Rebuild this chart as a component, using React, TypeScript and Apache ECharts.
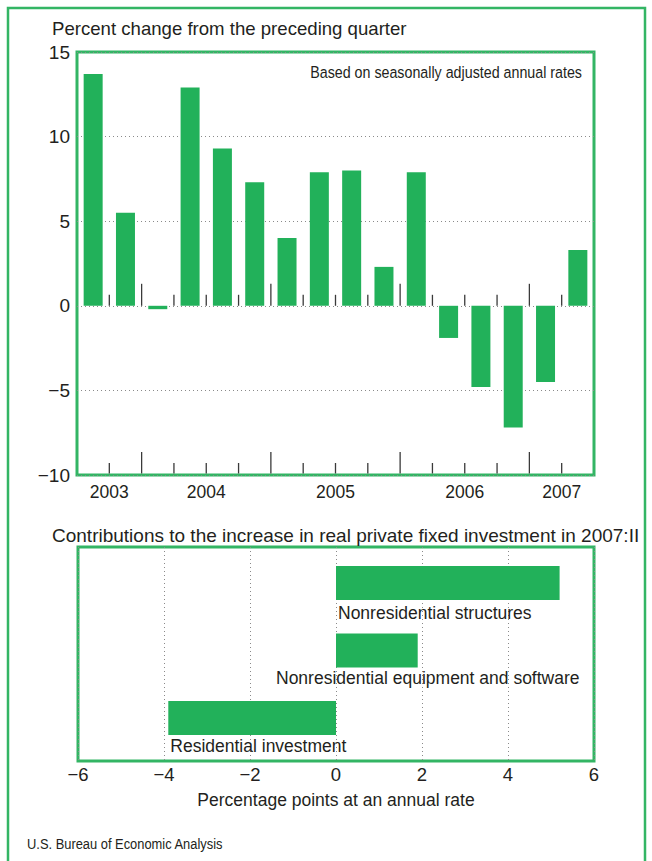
import React, { useEffect, useRef } from 'react';
import * as echarts from 'echarts';

// Top panel: percent change from the preceding quarter (SAAR)
const quarters = [
  '2003 Q3', '2003 Q4',
  '2004 Q1', '2004 Q2', '2004 Q3', '2004 Q4',
  '2005 Q1', '2005 Q2', '2005 Q3', '2005 Q4',
  '2006 Q1', '2006 Q2', '2006 Q3', '2006 Q4',
  '2007 Q1', '2007 Q2',
];
const changes = [13.7, 5.5, -0.2, 12.9, 9.3, 7.3, 4.0, 7.9, 8.0, 2.3, 7.9, -1.9, -4.8, -7.2, -4.5, 3.3];
const yearLabels = ['2003', '2004', '2005', '2006', '2007'];
const yTicks = [-10, -5, 0, 5, 10, 15];

// Bottom panel: contributions to the increase in 2007:II
const components = ['Nonresidential structures', 'Nonresidential equipment and software', 'Residential investment'];
const contributions = [5.2, 1.9, -3.9];
const xTicks = [-6, -4, -2, 0, 2, 4, 6];

const FONT = '"Liberation Sans", Arial, Helvetica, sans-serif';
const TEXT = '#231f20';
const GREEN = '#22b15a';
const BORDER = '#33b564';
const GRIDLINE = '#8a8a8a';
const TICK = '#3a3a3a';

const minus = (v: number) => (v < 0 ? '\u2212' + Math.abs(v) : String(v));

// year label sits at the centre of each year's span of quarters (a boundary value)
const yearLabelAt: Record<number, string> = {};
yearLabels.forEach((y) => {
  const idx = quarters.map((q, i) => (q.startsWith(y) ? i : -1)).filter((i) => i >= 0);
  yearLabelAt[(idx[0] + idx[idx.length - 1] + 1) / 2] = y;
});

// boundaries between consecutive quarters; year boundaries get tall ticks
const boundaries = quarters.slice(1).map((q, i) => [i + 1, q.endsWith('Q1') ? 1 : 0]);

const labelPos: [number, number][] = [[2, 38], [-60, 35], [2, 36]];

export default function App() {
  const ref = useRef<HTMLDivElement>(null);

  useEffect(() => {
    if (!ref.current) return;
    const chart = echarts.init(ref.current, undefined, { renderer: 'svg' });
    const dotted = { color: GRIDLINE, type: [1, 3] as any, width: 1 };
    const option: any = {
      animation: false,
      backgroundColor: '#ffffff',
      textStyle: { fontFamily: FONT, color: TEXT },
      grid: [
        { left: 77, top: 52, width: 517, height: 423, show: true, borderColor: BORDER, borderWidth: 3, backgroundColor: 'transparent' },
        { left: 78, top: 549.25, width: 516, height: 202.5, show: false },
        { left: 78, top: 547, width: 516, height: 214, show: true, borderColor: BORDER, borderWidth: 3, backgroundColor: 'transparent' },
      ],
      xAxis: [
        {
          gridIndex: 0, type: 'value', min: 0, max: quarters.length, interval: 1,
          axisLine: { show: false }, axisTick: { show: false }, splitLine: { show: false },
          axisLabel: {
            formatter: (v: number) => yearLabelAt[v] ?? '',
            fontSize: 17.5, color: TEXT, fontFamily: FONT, margin: 8, hideOverlap: false,
          },
        },
        { gridIndex: 1, type: 'value', min: xTicks[0], max: xTicks[xTicks.length - 1], show: false },
        {
          gridIndex: 2, type: 'value', min: xTicks[0], max: xTicks[xTicks.length - 1], interval: 2,
          axisLine: { show: false }, axisTick: { show: false },
          splitLine: { show: true, lineStyle: dotted },
          axisLabel: { formatter: minus, fontSize: 18.5, color: TEXT, fontFamily: FONT, margin: 4 },
          name: 'Percentage points at an annual rate', nameLocation: 'middle', nameGap: 30,
          nameTextStyle: { fontSize: 17.5, color: TEXT, fontFamily: FONT },
        },
      ],
      yAxis: [
        {
          gridIndex: 0, type: 'value', min: yTicks[0], max: yTicks[yTicks.length - 1], interval: 5,
          axisLine: { show: false }, axisTick: { show: false },
          splitLine: { show: true, lineStyle: dotted },
          axisLabel: { formatter: minus, fontSize: 19, color: TEXT, fontFamily: FONT, margin: 7 },
        },
        { gridIndex: 1, type: 'category', data: components, inverse: true, show: false },
        { gridIndex: 2, type: 'value', min: 0, max: 1, show: false },
      ],
      series: [
        {
          type: 'bar', xAxisIndex: 0, yAxisIndex: 0,
          data: changes.map((v, i) => [i + 0.5, v]),
          barWidth: 19, itemStyle: { color: GREEN }, z: 3,
        },
        {
          type: 'custom', xAxisIndex: 0, yAxisIndex: 0, z: 4,
          data: boundaries,
          renderItem: (_p: any, api: any) => {
            const k = api.value(0);
            const tall = api.value(1) === 1;
            const zp = api.coord([k, 0]);
            const bp = api.coord([k, yTicks[0]]);
            const lz = tall ? 22 : 11;
            const lb = tall ? 23 : 12;
            const st = { stroke: TICK, lineWidth: 1.3 };
            return {
              type: 'group',
              children: [
                { type: 'line', shape: { x1: zp[0], y1: zp[1], x2: zp[0], y2: zp[1] - lz }, style: st },
                { type: 'line', shape: { x1: bp[0], y1: bp[1] - 1.5, x2: bp[0], y2: bp[1] - lb }, style: st },
              ],
            };
          },
        },
        {
          type: 'bar', xAxisIndex: 1, yAxisIndex: 1,
          barWidth: 34, itemStyle: { color: GREEN },
          data: contributions.map((v, i) => ({
            value: v,
            label: {
              show: true, formatter: '{b}', position: labelPos[i],
              fontSize: 17.5, color: TEXT, fontFamily: FONT,
            },
          })),
        },
      ],
      graphic: [
        { type: 'rect', shape: { x: 8, y: 8, width: 637, height: 880 }, style: { fill: 'none', stroke: BORDER, lineWidth: 2.5 }, z: 10 },
        { type: 'text', x: 52, y: 28, style: { text: 'Percent change from the preceding quarter', fontSize: 18.6, fontFamily: FONT, fill: TEXT, verticalAlign: 'middle' } },
        { type: 'text', x: 582, y: 72, scaleX: 0.865, style: { text: 'Based on seasonally adjusted annual rates', fontSize: 16.5, fontFamily: FONT, fill: TEXT, align: 'right', verticalAlign: 'middle' } },
        { type: 'text', x: 52, y: 535, style: { text: 'Contributions to the increase in real private fixed investment in 2007:II', fontSize: 19, fontFamily: FONT, fill: TEXT, verticalAlign: 'middle' } },
        { type: 'text', x: 27, y: 844, scaleX: 0.86, style: { text: 'U.S. Bureau of Economic Analysis', fontSize: 15, fontFamily: FONT, fill: TEXT, verticalAlign: 'middle' } },
      ],
    };
    chart.setOption(option);
    return () => chart.dispose();
  }, []);

  return (
    <div style={{ position: 'fixed', left: 0, top: 0, width: 652, height: 861, background: '#fff' }}>
      <div ref={ref} style={{ width: 652, height: 861 }} />
    </div>
  );
}
